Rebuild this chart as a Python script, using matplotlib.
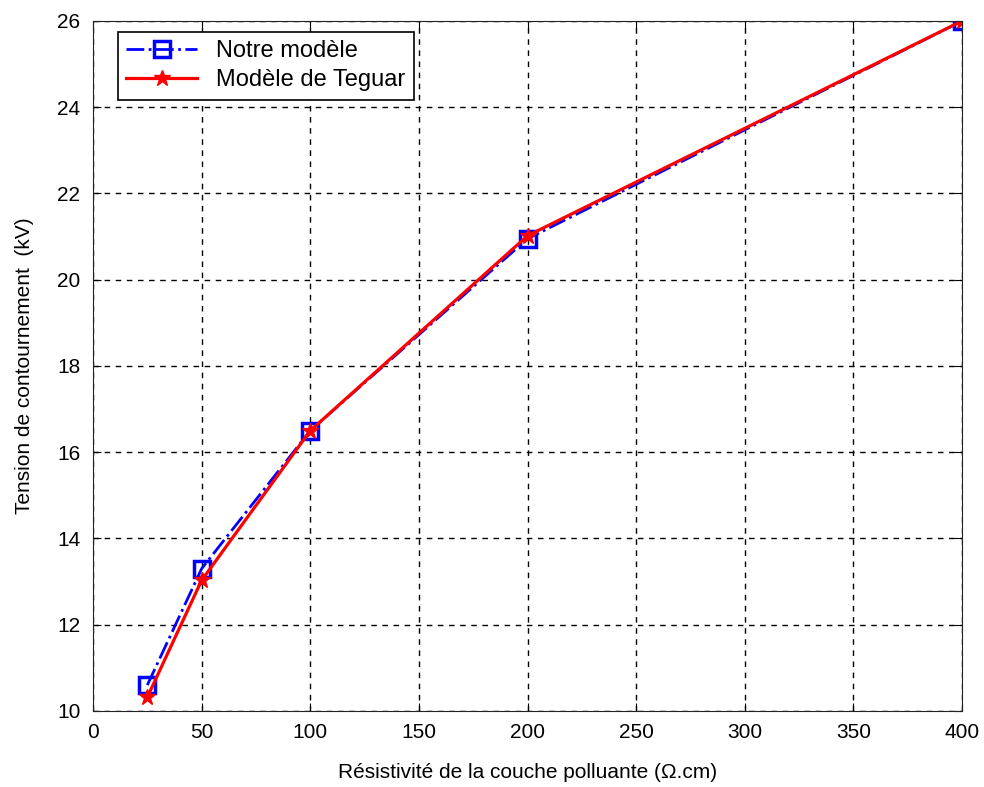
import numpy as np
import matplotlib
matplotlib.use('Agg')
import matplotlib.pyplot as plt

plt.rcParams['font.family'] = ['Liberation Sans', 'DejaVu Sans']

resistivite = [25, 50, 100, 200, 400]
notre_modele = [10.6, 13.3, 16.5, 20.95, 26.0]
teguar = [10.32, 13.03, 16.5, 21.02, 26.0]

fig = plt.figure(figsize=(9.84, 7.87), dpi=100)
ax = fig.add_axes([93/984, 1-711/787, (962-93)/984, (711-21)/787])

ax.plot(resistivite, notre_modele, color='blue', linestyle='-.', linewidth=2,
        marker='s', markersize=11, markerfacecolor='none', markeredgewidth=2.5,
        label='Notre modèle')
ax.plot(resistivite, teguar, color='red', linestyle='-', linewidth=2.3,
        marker='*', markersize=12, label='Modèle de Teguar')

ax.set_xlim(0, 400)
ax.set_ylim(10, 26)
ax.set_xticks(np.arange(0, 401, 50))
ax.set_yticks(np.arange(10, 27, 2))
ax.grid(True, color='black', linestyle=(0, (4, 4)), linewidth=1)
ax.tick_params(direction='in', labelsize=15, length=6, pad=9, top=True, right=True)
for s in ax.spines.values():
    s.set_color('#222222')
ax.set_xlabel('Résistivité de la couche polluante (Ω.cm)', fontsize=15, labelpad=15)
ax.set_ylabel('Tension de contournement  (kV)', fontsize=15, labelpad=17)

leg = ax.legend(loc='upper left', bbox_to_anchor=(0.029, 0.984), borderaxespad=0,
                fontsize=17, fancybox=False, framealpha=1, edgecolor='black',
                borderpad=0.35, handlelength=3.0, labelspacing=0.3)
leg.get_frame().set_linewidth(1.2)

fig.savefig('out.png', dpi=100)
